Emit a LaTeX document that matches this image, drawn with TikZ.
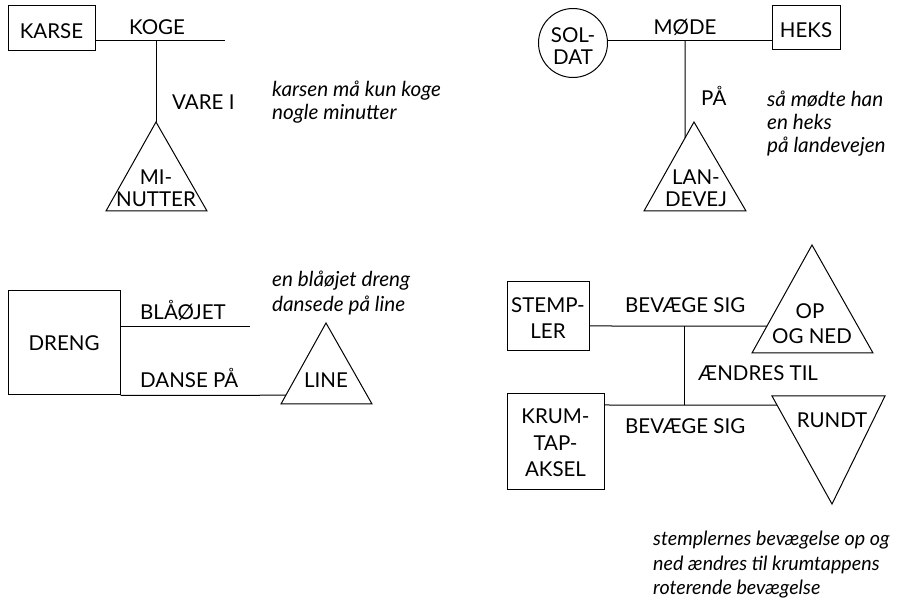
\documentclass[tikz,border=0pt]{standalone}
\usepackage{fontspec}
\setmainfont{Lato}
\usetikzlibrary{calc}

\tikzset{
  lbl/.style={font=\fontsize{20.5}{24}\selectfont, inner sep=0pt, anchor=base},
  lblw/.style={lbl, anchor=base west},
  note/.style={font=\fontsize{20.7}{24}\selectfont\itshape, inner sep=0pt, anchor=base west},
  smallnote/.style={note, font=\fontsize{19.7}{24}\selectfont\itshape},
  concept/.style={draw, line width=1pt, inner sep=0pt},
  rel/.style={line width=1pt},
  tri/.style={draw, line width=1pt, line join=miter},
}

\begin{document}
\begin{tikzpicture}[x=1pt, y=-1pt]
\useasboundingbox (0,0) rectangle (897,601);

% ---------- karse koge vare i minutter ----------
\node[concept, minimum width=87pt, minimum height=45pt] (karse) at (51.5,28.5) {};
\node[lbl] (karseT) at (51.5,39) {KARSE};
\coordinate (kogeEnd) at (225,41);
\coordinate (kogeJ) at (156,41);
\draw[rel] (karse.east |- kogeEnd) -- (kogeEnd);
\node[lbl] (koge) at (157,35) {KOGE};
\coordinate (minA) at (156,122);
\coordinate (minL) at (106,211);
\coordinate (minR) at (207,211);
\draw[tri] (minA) -- (minL) -- (minR) -- cycle;
\draw[rel] (kogeJ) -- (minA);
\node[lblw] (vare) at (172,110) {VARE I};
\node[lbl] (min1) at (156,185) {MI-};
\node[lbl] (min2) at (156,207) {NUTTER};
\node[note] (n1a) at (272,97) {karsen må kun koge};
\node[note] (n1b) at (272,120) {nogle minutter};

% ---------- soldat møde heks på landevej ----------
\node[concept, circle, minimum size=69pt] (soldat) at (573,43) {};
\node[lbl] (sol1) at (573,43) {SOL-};
\node[lbl] (sol2) at (573,65) {DAT};
\node[concept, minimum width=68pt, minimum height=44pt] (heks) at (806,28) {};
\node[lbl] (heksT) at (806,38) {HEKS};
\coordinate (modeJ) at (685,41);
\draw[rel] (soldat.east |- modeJ) -- (heks.west |- modeJ);
\node[lbl] (mode) at (685,35) {MØDE};
\coordinate (lanA) at (694,122);
\coordinate (lanL) at (644,211);
\coordinate (lanR) at (746,211);
\draw[tri] (lanA) -- (lanL) -- (lanR) -- cycle;
\coordinate (lanHit) at (intersection of modeJ--{685,300} and lanA--lanL);
\draw[rel] (modeJ) -- (lanHit);
\node[lblw] (paa) at (701,106) {PÅ};
\node[lbl] (lan1) at (696,185) {LAN-};
\node[lbl] (lan2) at (696,207) {DEVEJ};
\node[note] (n2a) at (767,107) {så mødte han};
\node[note] (n2b) at (767,130) {en heks};
\node[note] (n2c) at (767,153) {på landevejen};

% ---------- blåøjet dreng danse på line ----------
\node[concept, minimum width=112pt, minimum height=104pt] (dreng) at (64,343) {};
\node[lbl] (drengT) at (64,351) {DRENG};
\coordinate (blaaEnd) at (250,327);
\draw[rel] (dreng.east |- blaaEnd) -- (blaaEnd);
\node[lblw] (blaa) at (140,320) {BLÅØJET};
\coordinate (lineA) at (326,323);
\coordinate (lineL) at (281,404);
\coordinate (lineR) at (372,404);
\draw[tri] (lineA) -- (lineL) -- (lineR) -- cycle;
\coordinate (danseJ) at (dreng.south east);
\coordinate (lineHit) at (intersection of danseJ--{400,395} and lineA--lineL);
\draw[rel] (danseJ) -- (lineHit);
\node[lblw] (danse) at (140,388) {DANSE PÅ};
\node[lbl] (lineT) at (326,388) {LINE};
\node[note] (n3a) at (272,287) {en blåøjet dreng};
\node[note] (n3b) at (272,312) {dansede på line};

% ---------- stempler / krumtapaksel ----------
\node[concept, minimum width=82pt, minimum height=69pt] (stem) at (548,316) {};
\node[lbl] (stem1) at (548,313) {STEMP-};
\node[lbl] (stem2) at (548,339) {LER};
\node[concept, minimum width=97pt, minimum height=96pt] (krum) at (555.5,441.5) {};
\node[lbl] (krum1) at (555.5,424) {KRUM-};
\node[lbl] (krum2) at (555.5,450) {TAP-};
\node[lbl] (krum3) at (555.5,476) {AKSEL};
\coordinate (opA) at (812,245);
\coordinate (opL) at (752,353);
\coordinate (opR) at (873,353);
\draw[tri] (opA) -- (opL) -- (opR) -- cycle;
\node[lbl] (op1) at (810,319) {OP};
\node[lbl] (op2) at (812,344) {OG NED};
\coordinate (rnL) at (772,396);
\coordinate (rnR) at (885,396);
\coordinate (rnB) at (832,504);
\draw[tri] (rnL) -- (rnR) -- (rnB) -- cycle;
\node[lbl] (rundt) at (832,428) {RUNDT};
\coordinate (upJ) at (684,326);
\coordinate (loJ) at (684,405);
\coordinate (opHit) at (intersection of upJ--{900,326} and opA--opL);
\coordinate (rnHit) at (intersection of loJ--{900,405} and rnL--rnB);
\draw[rel] (stem.east |- upJ) -- (opHit);
\draw[rel] (krum.east |- loJ) -- (rnHit);
\draw[rel] (upJ) -- (loJ);
\node[lblw] (bev1) at (625,313) {BEVÆGE SIG};
\node[lblw] (bev2) at (625,433) {BEVÆGE SIG};
\node[lblw] (aendr) at (698,381) {ÆNDRES TIL};
\node[smallnote] (n4a) at (653,545) {stemplernes bevægelse op og};
\node[smallnote] (n4b) at (653,570) {ned ændres til krumtappens};
\node[smallnote] (n4c) at (653,594) {roterende bevægelse};
\end{tikzpicture}
\end{document}
